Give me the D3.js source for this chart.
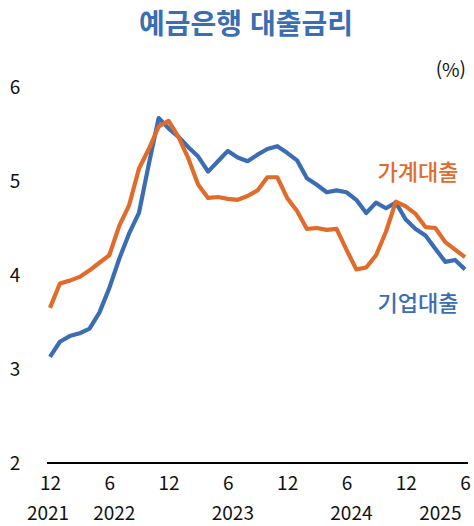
<!DOCTYPE html>
<html lang="ko">
<head>
    <meta charset="UTF-8">
    <title>예금은행 대출금리</title>
    <script src="https://cdn.jsdelivr.net/npm/d3@7"></script>
    <style>
        body { margin: 0; background: #ffffff; }
        text { font-family: "Noto Sans CJK KR", "Noto Sans", sans-serif; }
    </style>
</head>
<body>
    <div id="chart"></div>

    <script>

        // months, 2021-12 .. 2025-06
        const months = [
            '2021-12',
            '2022-01', '2022-02', '2022-03', '2022-04', '2022-05', '2022-06',
            '2022-07', '2022-08', '2022-09', '2022-10', '2022-11', '2022-12',
            '2023-01', '2023-02', '2023-03', '2023-04', '2023-05', '2023-06',
            '2023-07', '2023-08', '2023-09', '2023-10', '2023-11', '2023-12',
            '2024-01', '2024-02', '2024-03', '2024-04', '2024-05', '2024-06',
            '2024-07', '2024-08', '2024-09', '2024-10', '2024-11', '2024-12',
            '2025-01', '2025-02', '2025-03', '2025-04', '2025-05', '2025-06'
        ];

        // 가계대출 (household)
        const household = [
            3.65,
            3.91, 3.94, 3.98, 4.05, 4.13, 4.21,
            4.52, 4.74, 5.13, 5.34, 5.58, 5.64,
            5.47, 5.24, 4.96, 4.82, 4.83, 4.81,
            4.80, 4.84, 4.90, 5.04, 5.04, 4.82,
            4.68, 4.49, 4.50, 4.48, 4.49, 4.27,
            4.06, 4.08, 4.21, 4.46, 4.78, 4.73,
            4.65, 4.51, 4.50, 4.35, 4.27, 4.19
        ];

        // 기업대출 (corporate)
        const corporate = [
            3.13,
            3.29, 3.35, 3.38, 3.43, 3.60, 3.86,
            4.17, 4.44, 4.66, 5.18, 5.67, 5.56,
            5.47, 5.36, 5.26, 5.10, 5.21, 5.32,
            5.25, 5.21, 5.28, 5.34, 5.37, 5.30,
            5.22, 5.03, 4.96, 4.88, 4.90, 4.88,
            4.80, 4.66, 4.77, 4.71, 4.77, 4.59,
            4.49, 4.42, 4.28, 4.14, 4.16, 4.06
        ];

        const yTicks = [2, 3, 4, 5, 6];
        const monthTicks = ['2021-12', '2022-06', '2022-12', '2023-06', '2023-12', '2024-06', '2024-12', '2025-06'];
        const yearLabels = ['2021', '2022', '2023', '2024', '2025'];
        const yearAnchors = ['2021-12', '2022-06', '2023-06', '2024-06', '2025-03'];

    </script>

    <script>

        const width = 474;
        const height = 526;

        const blue = '#3b6db3';
        const orange = '#e06b2b';

        const svg = d3.select('#chart')
            .append('svg')
            .attr('width', width)
            .attr('height', height);

        const x = d3.scalePoint()
            .domain(months)
            .range([50, 465]);

        const y = d3.scaleLinear()
            .domain([2, 6])
            .range([463, 87]);

        // title
        svg.append('text')
            .attr('x', 246)
            .attr('y', 34)
            .attr('text-anchor', 'middle')
            .attr('font-size', 28)
            .attr('font-weight', 'bold')
            .attr('fill', blue)
            .text('예금은행 대출금리');

        svg.append('text')
            .attr('x', 466)
            .attr('y', 77)
            .attr('text-anchor', 'end')
            .attr('font-size', 19)
            .attr('fill', '#111')
            .text('(%)');

        // y axis (labels only)
        const yAxis = svg.append('g')
            .attr('transform', 'translate(15,0)')
            .call(d3.axisLeft(y).tickValues(yTicks).tickSize(0).tickPadding(0).tickFormat(d3.format('d')));

        yAxis.select('.domain').remove();
        yAxis.selectAll('text')
            .attr('text-anchor', 'middle')
            .attr('font-family', null)
            .attr('font-size', 19)
            .attr('fill', '#111');

        // x axis
        const xAxis = svg.append('g')
            .attr('transform', `translate(0,${y(2)})`)
            .call(d3.axisBottom(x)
                .tickValues(monthTicks)
                .tickSize(0)
                .tickPadding(14)
                .tickFormat((d) => +d.slice(5)));

        xAxis.select('.domain').remove();
        xAxis.selectAll('text')
            .attr('font-family', null)
            .attr('font-size', 19)
            .attr('fill', '#111');

        svg.append('line')
            .attr('x1', x.range()[0] - 3)
            .attr('x2', x.range()[1] + 3)
            .attr('y1', y(2))
            .attr('y2', y(2))
            .attr('stroke', '#000')
            .attr('stroke-width', 2);

        // year labels
        svg.selectAll('.year')
            .data(yearLabels)
            .enter()
            .append('text')
            .attr('class', 'year')
            .attr('x', (d, i) => x(yearAnchors[i]) + (i === 0 ? -2 : 5))
            .attr('y', 520)
            .attr('text-anchor', 'middle')
            .attr('font-size', 19)
            .attr('fill', '#111')
            .text((d) => d);

        // lines
        const line = d3.line()
            .x((d, i) => x(months[i]))
            .y((d) => y(d));

        svg.append('path')
            .datum(corporate)
            .attr('fill', 'none')
            .attr('stroke', blue)
            .attr('stroke-width', 4.2)
            .attr('stroke-linejoin', 'round')
            .attr('d', line);

        svg.append('path')
            .datum(household)
            .attr('fill', 'none')
            .attr('stroke', orange)
            .attr('stroke-width', 4.2)
            .attr('stroke-linejoin', 'round')
            .attr('d', line);

        // series labels
        svg.append('text')
            .attr('x', 418)
            .attr('y', 180)
            .attr('text-anchor', 'middle')
            .attr('font-size', 22)
            .attr('font-weight', 500)
            .attr('fill', orange)
            .text('가계대출');

        svg.append('text')
            .attr('x', 418)
            .attr('y', 311)
            .attr('text-anchor', 'middle')
            .attr('font-size', 22)
            .attr('font-weight', 500)
            .attr('fill', blue)
            .text('기업대출');

    </script>
</body>
</html>
